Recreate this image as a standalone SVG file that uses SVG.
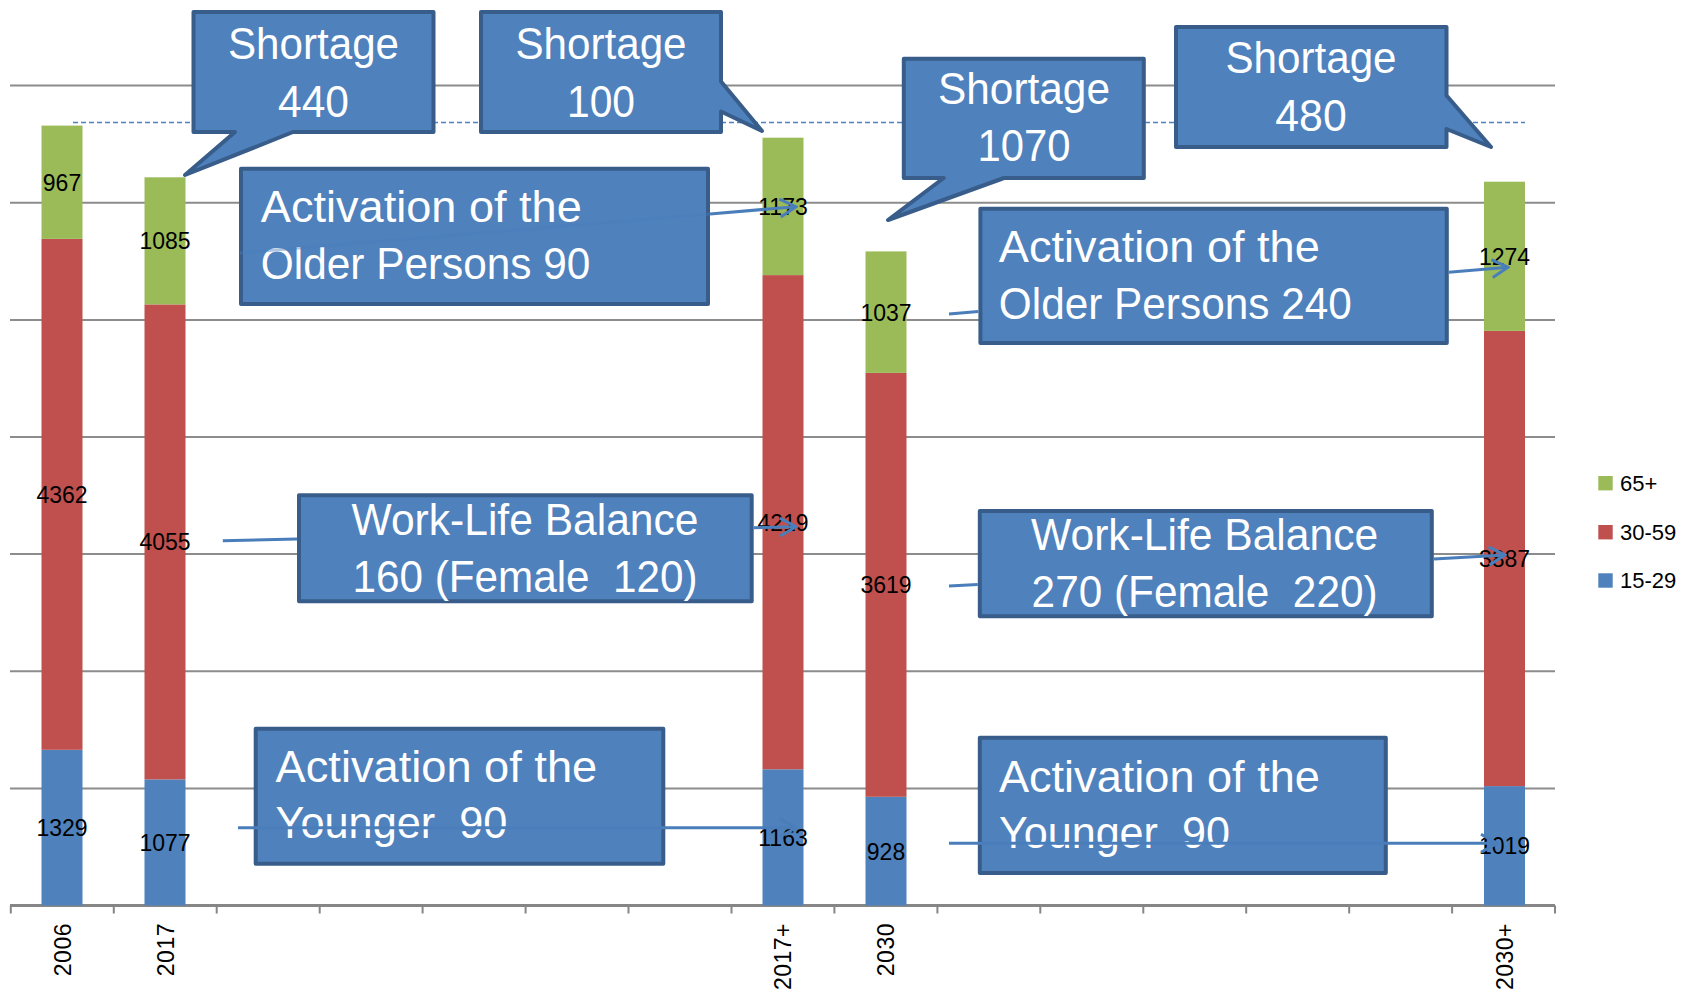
<svg xmlns="http://www.w3.org/2000/svg" width="1691" height="997" viewBox="0 0 1691 997">
<style>
.grid{stroke:#8c8c8c;stroke-width:2;fill:none}
.axis{stroke:#868686;stroke-width:3;fill:none}
.tick{stroke:#868686;stroke-width:2}
.g{fill:#9BBB59}.r{fill:#C0504D}.b{fill:#4F81BD}
.lbl{font-family:"Liberation Sans",Arial,sans-serif;font-size:23px;fill:#000;text-anchor:middle}
.cat{font-family:"Liberation Sans",Arial,sans-serif;font-size:23px;fill:#000;text-anchor:end;letter-spacing:0.5px}
.leg{font-family:"Liberation Sans",Arial,sans-serif;font-size:22px;fill:#000}
.box{fill:#4F81BD;stroke:#385D8A;stroke-width:4;stroke-linejoin:round}
.bt{font-family:"Liberation Sans",Arial,sans-serif;font-size:44px;fill:#fff}
.c{text-anchor:middle}
.con{stroke:#4A7EBB;stroke-width:3;fill:none}
.dash{stroke:#4F81BD;stroke-width:1.6;stroke-dasharray:5 3;fill:none}
</style>
<defs>
<marker id="arr" viewBox="0 0 20 22" refX="18" refY="11" markerWidth="20" markerHeight="22" markerUnits="userSpaceOnUse" orient="auto">
<path d="M2,2 L18,11 L2,20" fill="none" stroke="#4A7EBB" stroke-width="3"/>
</marker>
</defs>
<rect width="1691" height="997" fill="#fff"/>
<g id="grid">
<path class="grid" d="M10,85.6H1555M10,202.7H1555M10,319.9H1555M10,437H1555M10,554.1H1555M10,671.2H1555M10,788.4H1555"/>
<path class="axis" d="M10,905.5H1555"/>
<path class="tick" d="M10.8,905.5v8M113.8,905.5v8M216.7,905.5v8M319.7,905.5v8M422.6,905.5v8M525.6,905.5v8M628.5,905.5v8M731.5,905.5v8M834.4,905.5v8M937.4,905.5v8M1040.3,905.5v8M1143.3,905.5v8M1246.2,905.5v8M1349.2,905.5v8M1452.1,905.5v8M1555,905.5v8"/>
</g>
<path class="dash" d="M73,122.5H1525"/>
<g id="bars">
<rect class="b" x="41.5" y="749.8" width="41" height="155.7"/>
<rect class="r" x="41.5" y="238.9" width="41" height="510.9"/>
<rect class="g" x="41.5" y="125.6" width="41" height="113.3"/>
<rect class="b" x="144.5" y="779.4" width="41" height="126.1"/>
<rect class="r" x="144.5" y="304.4" width="41" height="475"/>
<rect class="g" x="144.5" y="177.3" width="41" height="127.1"/>
<rect class="b" x="762.5" y="769.3" width="41" height="136.2"/>
<rect class="r" x="762.5" y="275.1" width="41" height="494.2"/>
<rect class="g" x="762.5" y="137.7" width="41" height="137.4"/>
<rect class="b" x="865.5" y="796.8" width="41" height="108.7"/>
<rect class="r" x="865.5" y="372.9" width="41" height="423.9"/>
<rect class="g" x="865.5" y="251.4" width="41" height="121.5"/>
<rect class="b" x="1484" y="786.1" width="41" height="119.4"/>
<rect class="r" x="1484" y="330.9" width="41" height="455.2"/>
<rect class="g" x="1484" y="181.7" width="41" height="149.2"/>
</g>
<g id="labels">
<text class="lbl" x="62" y="190.8">967</text>
<text class="lbl" x="62" y="502.9">4362</text>
<text class="lbl" x="62" y="836.2">1329</text>
<text class="lbl" x="165" y="249.4">1085</text>
<text class="lbl" x="165" y="550.4">4055</text>
<text class="lbl" x="165" y="850.9">1077</text>
<text class="lbl" x="783" y="214.9">1173</text>
<text class="lbl" x="783" y="530.7">4219</text>
<text class="lbl" x="783" y="845.9">1163</text>
<text class="lbl" x="886" y="320.7">1037</text>
<text class="lbl" x="886" y="593.4">3619</text>
<text class="lbl" x="886" y="859.7">928</text>
<text class="lbl" x="1504.5" y="264.8">1274</text>
<text class="lbl" x="1504.5" y="567">3887</text>
<text class="lbl" x="1504.5" y="854.3">1019</text>
</g>
<g id="categories">
<text class="cat" transform="translate(70.5,923) rotate(-90)">2006</text>
<text class="cat" transform="translate(173.5,923) rotate(-90)">2017</text>
<text class="cat" transform="translate(791.3,923) rotate(-90)">2017+</text>
<text class="cat" transform="translate(894.3,923) rotate(-90)">2030</text>
<text class="cat" transform="translate(1512.8,923) rotate(-90)">2030+</text>
</g>
<g id="legend">
<rect class="g" x="1598.3" y="476" width="14.4" height="14.4"/>
<text class="leg" x="1620" y="491">65+</text>
<rect class="r" x="1598.3" y="525" width="14.4" height="14.4"/>
<text class="leg" x="1620" y="540">30-59</text>
<rect class="b" x="1598.3" y="573.3" width="14.4" height="14.4"/>
<text class="leg" x="1620" y="588">15-29</text>
</g>
<g id="shortage-440">
<path class="box" d="M193.5,12H433.5V132H293L185,175L235,132H193.5Z"/>
<text class="bt c" x="313.5" y="59.3" textLength="171" lengthAdjust="spacingAndGlyphs">Shortage</text>
<text class="bt c" x="313.5" y="116.7" textLength="71" lengthAdjust="spacingAndGlyphs">440</text>
</g>
<g id="shortage-100">
<path class="box" d="M481,12H721V81.5L762,131L721,111.5V132H481Z"/>
<text class="bt c" x="601" y="59.3" textLength="171" lengthAdjust="spacingAndGlyphs">Shortage</text>
<text class="bt c" x="601" y="116.7" textLength="68" lengthAdjust="spacingAndGlyphs">100</text>
</g>
<g id="shortage-1070">
<path class="box" d="M903.8,58.7H1143.8V178H1004L888,220L943.7,178H903.8Z"/>
<text class="bt c" x="1024" y="104" textLength="172" lengthAdjust="spacingAndGlyphs">Shortage</text>
<text class="bt c" x="1024" y="161" textLength="93" lengthAdjust="spacingAndGlyphs">1070</text>
</g>
<g id="shortage-480">
<path class="box" d="M1176,27H1446.5V95.5L1491,147L1446.5,129V147H1176Z"/>
<text class="bt c" x="1311" y="72.7" textLength="171" lengthAdjust="spacingAndGlyphs">Shortage</text>
<text class="bt c" x="1311" y="131" textLength="71.4" lengthAdjust="spacingAndGlyphs">480</text>
</g>
<g id="older-90">
<rect class="box" x="241" y="168.7" width="467" height="135.3"/>
<text class="bt" x="260.8" y="221.7" textLength="321" lengthAdjust="spacingAndGlyphs">Activation of the</text>
<text class="bt" x="260.8" y="279.3" textLength="329.6" lengthAdjust="spacingAndGlyphs">Older Persons 90</text>
</g>
<g id="older-240">
<rect class="box" x="980.4" y="208.7" width="466.4" height="134.3"/>
<text class="bt" x="998.8" y="261.7" textLength="321" lengthAdjust="spacingAndGlyphs">Activation of the</text>
<text class="bt" x="998.8" y="319" textLength="353" lengthAdjust="spacingAndGlyphs">Older Persons 240</text>
</g>
<g id="wlb-160">
<rect class="box" x="299" y="495.3" width="452.7" height="106"/>
<text class="bt c" x="525" y="535" textLength="347" lengthAdjust="spacingAndGlyphs">Work-Life Balance</text>
<text class="bt c" x="525" y="591.7" textLength="345" lengthAdjust="spacingAndGlyphs" xml:space="preserve">160 (Female  120)</text>
</g>
<g id="wlb-270">
<rect class="box" x="979.8" y="511" width="452" height="105.3"/>
<text class="bt c" x="1204.6" y="550" textLength="347" lengthAdjust="spacingAndGlyphs">Work-Life Balance</text>
<text class="bt c" x="1204.6" y="606.7" textLength="346" lengthAdjust="spacingAndGlyphs" xml:space="preserve">270 (Female  220)</text>
</g>
<g id="younger-90-a">
<rect class="box" x="255.7" y="728.7" width="407.6" height="135"/>
<text class="bt" x="275.6" y="781.7" textLength="321.6" lengthAdjust="spacingAndGlyphs">Activation of the</text>
<text class="bt" x="275.6" y="838.3" textLength="231.7" lengthAdjust="spacingAndGlyphs" xml:space="preserve">Younger  90</text>
</g>
<g id="younger-90-b">
<rect class="box" x="979.8" y="737.7" width="406" height="135.3"/>
<text class="bt" x="998.9" y="791.7" textLength="321" lengthAdjust="spacingAndGlyphs">Activation of the</text>
<text class="bt" x="998.9" y="848.3" textLength="231" lengthAdjust="spacingAndGlyphs" xml:space="preserve">Younger  90</text>
</g>
<g id="connectors">
<path class="con" stroke-opacity="0.45" d="M240,253L710,213.9"/>
<path class="con" d="M710,213.9L796,206.7" marker-end="url(#arr)"/>
<path class="con" d="M949,314L978.4,311.5"/>
<path class="con" d="M1448.8,272.2L1508,267.3" marker-end="url(#arr)"/>
<path class="con" d="M222.8,540.7L297,538.9"/>
<path class="con" d="M753.7,527.7L796,526.7" marker-end="url(#arr)"/>
<path class="con" d="M949,586L977.8,584.4"/>
<path class="con" d="M1433.9,559L1505,555" marker-end="url(#arr)"/>
<path class="con" d="M238,827.7L796,827.7" marker-end="url(#arr)"/>
<path class="con" d="M949,843.3L1497,843.3" marker-end="url(#arr)"/>
</g>
</svg>
